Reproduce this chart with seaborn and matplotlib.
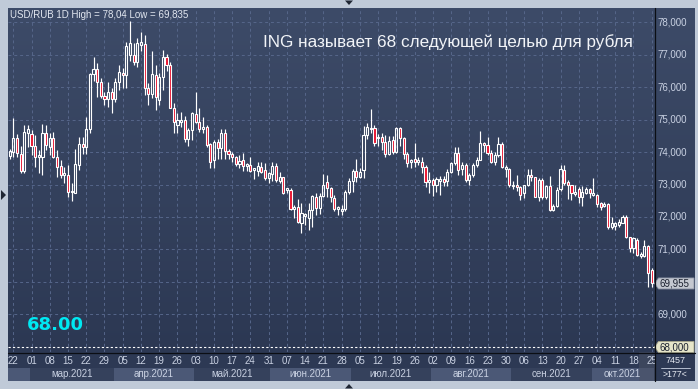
import numpy as np
import pandas as pd
import matplotlib
matplotlib.use("Agg")
import matplotlib.pyplot as plt
import seaborn as sns
from matplotlib.colors import LinearSegmentedColormap
from matplotlib.patches import Polygon, Rectangle
from matplotlib.lines import Line2D

# Daily USD/RUB candles, 19 Feb - 25 Oct 2021
opens = [
    73.88,
    74.01, 74.42, 73.94, 73.43, 74.59,
    74.54, 74.18, 73.86, 73.86, 74.59,
    74.16, 74.42, 73.86, 73.57, 73.29,
    73.29, 72.78, 72.73, 73.60, 74.25,
    74.14, 74.70, 76.40, 76.54, 76.16,
    75.72, 75.62, 75.86, 75.62, 76.16,
    76.44, 76.37, 76.98, 76.98, 76.78,
    77.30, 77.32, 75.96, 75.77, 76.37,
    75.60, 76.30, 76.91, 76.68, 75.36,
    74.83, 74.93, 75.00, 74.39, 74.68,
    75.17, 74.93, 74.70, 74.78, 74.25,
    73.75, 74.30, 74.11, 74.57, 74.04,
    73.94, 73.84, 73.62, 73.75, 73.57,
    73.60, 73.45, 73.43, 73.55, 73.45,
    73.19, 73.32, 73.57, 73.12, 73.22,
    72.82, 72.83, 72.24, 72.30, 71.83,
    72.03, 71.96, 72.22, 72.63, 72.27,
    72.65, 73.09, 72.88, 72.60, 72.24,
    72.20, 72.24, 72.78, 73.11, 73.42,
    73.22, 73.45, 74.52, 74.70, 74.75,
    74.42, 74.45, 74.32, 73.95, 74.37,
    74.01, 74.73, 74.42, 73.94, 73.70,
    73.80, 73.70, 73.70, 73.53, 73.09,
    73.13, 72.99, 73.12, 73.16, 73.12,
    73.40, 73.65, 73.96, 73.47, 73.60,
    73.14, 73.29, 73.60, 73.75, 74.27,
    74.22, 73.96, 73.70, 73.90, 74.25,
    73.47, 73.47, 72.95, 72.98, 72.91,
    72.75, 72.98, 73.29, 73.22, 72.63,
    73.14, 72.63, 72.95, 72.22, 72.34,
    72.85, 73.45, 73.09, 72.98, 72.71,
    72.85, 72.61, 72.75, 72.85, 72.68,
    72.68, 72.42, 72.34, 72.40, 71.70,
    71.72, 71.75, 71.83, 72.01, 71.37,
    71.04, 71.29, 70.80, 70.80, 71.12,
    70.37,
]
highs = [
    74.10,
    75.04, 74.55, 74.20, 74.83, 74.83,
    74.68, 74.52, 74.06, 74.87, 74.83,
    74.57, 74.63, 74.06, 73.75, 73.55,
    73.60, 73.04, 74.10, 74.47, 74.47,
    75.09, 76.42, 76.93, 76.73, 76.27,
    75.86, 76.16, 75.96, 76.27, 76.68,
    76.60, 77.39, 78.04, 77.34, 77.50,
    77.70, 77.60, 76.13, 77.10, 76.68,
    76.42, 77.14, 77.03, 76.78, 75.50,
    75.21, 75.24, 75.10, 74.73, 75.24,
    75.85, 75.34, 75.09, 74.83, 74.27,
    74.37, 74.39, 74.70, 74.70, 74.10,
    74.00, 73.88, 73.90, 73.96, 73.67,
    73.86, 73.50, 73.70, 73.70, 73.67,
    73.40, 73.70, 73.65, 73.40, 73.24,
    72.90, 72.88, 72.37, 72.54, 72.42,
    72.13, 72.42, 72.68, 72.73, 72.73,
    73.32, 73.29, 72.93, 72.68, 72.35,
    72.37, 72.83, 73.19, 73.47, 73.77,
    73.50, 74.80, 74.90, 75.31, 74.82,
    74.55, 74.60, 74.52, 74.50, 74.50,
    74.78, 74.78, 74.47, 74.00, 73.80,
    74.27, 73.85, 73.86, 73.60, 73.40,
    73.19, 73.24, 73.26, 73.25, 73.47,
    73.70, 74.14, 74.16, 73.70, 73.65,
    73.36, 73.65, 73.86, 74.66, 74.32,
    74.47, 74.06, 74.00, 74.47, 74.32,
    73.60, 73.50, 73.10, 73.30, 72.95,
    73.00, 73.47, 73.47, 73.24, 73.20,
    73.20, 73.00, 73.25, 72.40, 72.91,
    73.60, 73.60, 73.14, 72.98, 72.98,
    72.91, 72.95, 72.91, 72.90, 73.20,
    72.71, 72.45, 72.45, 72.42, 72.01,
    71.86, 71.95, 72.06, 72.06, 71.39,
    71.39, 71.34, 70.93, 71.29, 71.15,
    70.42,
]
lows = [
    73.78,
    73.86, 73.86, 73.34, 73.34, 74.16,
    73.91, 73.55, 73.34, 73.29, 74.06,
    73.90, 73.81, 73.24, 73.19, 73.04,
    72.63, 72.50, 72.73, 73.45, 73.95,
    73.95, 74.60, 76.20, 75.70, 75.65,
    75.45, 75.39, 75.19, 75.55, 75.91,
    75.96, 75.96, 76.80, 76.68, 76.63,
    77.10, 75.75, 75.45, 75.65, 75.30,
    75.45, 75.90, 76.50, 75.34, 74.60,
    74.60, 74.76, 74.32, 74.18, 74.37,
    74.90, 74.62, 74.57, 74.16, 73.50,
    73.50, 73.80, 73.80, 73.77, 73.80,
    73.70, 73.57, 73.50, 73.43, 73.43,
    73.37, 73.16, 73.25, 73.35, 73.14,
    73.05, 73.10, 73.09, 73.04, 72.71,
    72.73, 72.22, 71.96, 71.83, 71.50,
    71.75, 71.60, 71.70, 72.06, 72.10,
    72.63, 72.63, 72.47, 72.19, 72.06,
    72.06, 72.19, 72.70, 72.78, 73.09,
    73.19, 73.20, 74.40, 74.60, 74.20,
    74.20, 74.06, 73.85, 73.92, 73.95,
    73.98, 74.20, 73.80, 73.55, 73.50,
    73.55, 73.60, 73.35, 72.93, 72.73,
    72.65, 72.78, 72.68, 72.95, 72.95,
    73.35, 73.60, 73.29, 73.30, 73.09,
    73.00, 73.24, 73.55, 73.75, 74.00,
    73.90, 73.65, 73.60, 73.85, 73.50,
    73.24, 72.93, 72.85, 72.80, 72.52,
    72.60, 72.95, 73.10, 72.61, 72.50,
    72.55, 72.55, 72.19, 72.18, 72.30,
    72.80, 73.00, 72.54, 72.52, 72.65,
    72.44, 72.34, 72.70, 72.60, 72.65,
    72.30, 72.22, 72.30, 71.62, 71.62,
    71.60, 71.70, 71.80, 71.34, 70.93,
    70.88, 70.80, 70.75, 70.78, 69.85,
    69.835,
]
closes = [
    74.02,
    74.42, 73.96, 73.43, 74.63, 74.70,
    74.18, 73.86, 73.91, 74.59, 74.22,
    74.42, 73.86, 73.55, 73.29, 73.34,
    72.78, 72.80, 73.63, 74.25, 74.14,
    74.70, 76.40, 76.54, 76.16, 75.72,
    75.62, 75.86, 75.62, 76.16, 76.47,
    76.37, 77.26, 77.34, 76.78, 77.34,
    77.38, 75.96, 75.77, 76.39, 75.70,
    76.30, 76.91, 76.68, 75.36, 74.93,
    75.00, 75.00, 74.39, 74.68, 75.21,
    74.93, 74.70, 74.78, 74.22, 73.70,
    74.30, 74.11, 74.57, 74.04, 73.94,
    73.84, 73.62, 73.73, 73.57, 73.63,
    73.43, 73.50, 73.57, 73.40, 73.19,
    73.35, 73.57, 73.14, 73.22, 72.75,
    72.88, 72.24, 72.32, 71.86, 72.13,
    72.10, 72.22, 72.65, 72.27, 72.65,
    72.99, 72.88, 72.63, 72.24, 72.30,
    72.26, 72.78, 73.11, 73.42, 73.22,
    73.40, 74.52, 74.78, 74.74, 74.27,
    74.47, 74.32, 73.95, 74.35, 74.01,
    74.75, 74.42, 73.94, 73.65, 73.74,
    73.70, 73.75, 73.53, 73.09, 73.14,
    72.99, 73.16, 73.16, 73.08, 73.40,
    73.67, 73.96, 73.45, 73.60, 73.14,
    73.29, 73.60, 73.75, 74.27, 74.22,
    73.96, 73.70, 73.90, 74.25, 73.53,
    73.53, 72.98, 73.00, 72.91, 72.68,
    72.98, 73.29, 73.22, 72.63, 73.14,
    72.63, 72.95, 72.22, 72.34, 72.83,
    73.47, 73.06, 72.98, 72.75, 72.78,
    72.63, 72.78, 72.85, 72.73, 72.73,
    72.40, 72.30, 72.40, 71.70, 71.83,
    71.80, 71.86, 72.01, 71.37, 71.04,
    71.34, 70.83, 70.86, 71.11, 70.27,
    69.955,
]

dates = pd.bdate_range("2021-02-19", "2021-10-25")
month_names = {3: "мар.2021", 4: "апр.2021", 5: "май.2021", 6: "июн.2021",
               7: "июл.2021", 8: "авг.2021", 9: "сен.2021", 10: "окт.2021"}
price_ticks = [69, 70, 71, 72, 73, 74, 75, 76, 77, 78]
last_price = 69.955
target_price = 68.0

sns.set_theme(style="dark")
plt.rcParams["font.family"] = ["Liberation Sans", "DejaVu Sans"]

W, H = 698, 389
def box(x0, y0, x1, y1):
    return [x0 / W, 1 - y1 / H, (x1 - x0) / W, (y1 - y0) / H]
def pt(x, y):
    return (x / W, 1 - y / H)

fig = plt.figure(figsize=(W / 100, H / 100), dpi=100, facecolor="#c0cad8")

xlim = (-0.45, 176.9)
ylim = (67.846, 78.431)
bg = LinearSegmentedColormap.from_list("bg", ["#3d4b68", "#2c3853"])
grad = np.linspace(0, 1, 256).reshape(-1, 1)
label_col = "#c9d1e2"
fs = 7

# right price panel
axr = fig.add_axes(box(655, 8, 695, 352))
axr.imshow(grad, cmap=bg, aspect="auto", extent=(0, 1, ylim[0], ylim[1]), origin="upper")
axr.set_xlim(0, 1)
axr.set_ylim(*ylim)
axr.axis("off")
for p in price_ticks:
    if abs(p - last_price) < 0.3:
        continue  # hidden behind the last-price marker
    axr.text(0.07, p, f"{p},000", color=label_col, fontsize=fs, va="center", ha="left")

# bottom date panel
axb = fig.add_axes(box(8, 352, 655, 381))
axb.set_facecolor("#2d3954")
axb.set_xlim(*xlim)
axb.set_ylim(0, 1)
axb.set_xticks([])
axb.set_yticks([])
for s in axb.spines.values():
    s.set_visible(False)
idx = np.arange(len(dates))
months = pd.Series(idx, index=dates).groupby(dates.month)
for k, (m, g) in enumerate(months):
    lo, hi = max(g.min() - 0.5, xlim[0]), min(g.max() + 0.5, xlim[1])
    col = "#4b5876" if k % 2 == 0 else "#35415c"
    axb.axvspan(lo, hi, ymin=0, ymax=0.46, color=col, lw=0)
    if m in month_names:
        axb.text((lo + hi) / 2, 0.23, month_names[m], color=label_col, fontsize=fs,
                 ha="center", va="center")
mondays = idx[dates.weekday == 0]
for i in mondays:
    axb.text(i, 0.68, f"{dates[i].day:02d}", color=label_col, fontsize=fs,
             ha="center", va="center")
axb.axvspan(172.6, xlim[1], color="#4a5266", alpha=0.55, lw=0)

# corner box
axc = fig.add_axes(box(655, 352, 695, 381))
axc.set_xlim(0, 1)
axc.set_ylim(0, 1)
axc.axis("off")
axc.add_patch(Rectangle((0, 0), 1, 1, color="#2d3954"))
axc.text(0.52, 0.7, "7457", color="#e6eaf2", fontsize=6.5, ha="center", va="center")
axc.plot([0.15, 0.88], [0.46, 0.46], color="#c9d1e2", lw=0.6)
axc.text(0.5, 0.24, ">177<", color="#e6eaf2", fontsize=6.3, ha="center", va="center")

# main chart
ax = fig.add_axes(box(8, 8, 655, 352))
ax.imshow(grad, cmap=bg, aspect="auto", extent=(xlim[0], xlim[1], ylim[0], ylim[1]),
          origin="upper", zorder=0)
ax.set_xlim(*xlim)
ax.set_ylim(*ylim)
ax.set_xticks(mondays)
ax.set_yticks(price_ticks)
ax.set_xticklabels([])
ax.set_yticklabels([])
ax.tick_params(length=0)
ax.grid(True, color="#56668a", linestyle=(0, (3, 3)), linewidth=0.7, zorder=1)
for s in ax.spines.values():
    s.set_visible(False)

o = np.array(opens)
c = np.array(closes)
h = np.array(highs)
l = np.array(lows)
x = np.arange(len(o))
up = c >= o
top = np.maximum(o, c)
bot = np.minimum(o, c)
height = np.maximum(top - bot, 0.012)
ax.vlines(x, top, h, color="white", lw=0.85, zorder=3)
ax.vlines(x, l, bot, color="white", lw=0.85, zorder=3)
ax.bar(x[up], height[up], bottom=bot[up], width=0.58, color="none",
       edgecolor="white", linewidth=0.8, zorder=4)
ax.bar(x[~up], height[~up], bottom=bot[~up], width=0.58, color="#e8112d",
       edgecolor="white", linewidth=0.8, zorder=4)

ax.axhline(target_price, color="white", linestyle=(0, (2, 2)), lw=0.8, zorder=2)

ax.text(0.003, 0.979, "USD/RUB 1D High = 78,04 Low = 69,835", transform=ax.transAxes,
        color="#e2e7f0", fontsize=7, ha="left", va="center", zorder=6)
ax.text(0.966, 0.901, "ING называет 68 следующей целью для рубля", transform=ax.transAxes,
        color="#f2f4f8", fontsize=12.3, ha="right", va="center", zorder=6)
ax.text(0.029, 0.078, "68.00", transform=ax.transAxes, color="#00e8f2",
        fontsize=13, fontweight="bold", family="DejaVu Sans", ha="left", va="center", zorder=6)

# price markers on the right axis
def price_y(p):
    return 22 + (78 - p) * 32.5
for p, fc, ec in [(last_price, "#c4c8d0", "#8e96a6"), (target_price, "#e6e5c9", "#a8a78c")]:
    yc = price_y(p)
    fig.add_artist(Polygon([pt(654.5, yc), pt(658.5, yc - 5.5), pt(694, yc - 5.5),
                            pt(694, yc + 5.5), pt(658.5, yc + 5.5)], closed=True,
                           transform=fig.transFigure, fc=fc, ec=ec, lw=0.6))
    fig.text(*pt(659.5, yc), f"{p:.3f}".replace(".", ","), color="#1c2230",
             fontsize=fs, ha="left", va="center")

# separator lines
fig.add_artist(Line2D([655 / W, 655 / W], [1 - 8 / H, 1 - 381 / H], color="#0b0e14",
                      lw=0.9, transform=fig.transFigure))
fig.add_artist(Line2D([8 / W, 695 / W], [1 - 352.5 / H, 1 - 352.5 / H], color="#0b0e14",
                      lw=0.9, transform=fig.transFigure))

# small scroll arrows
arrow_col = "#1f2633"
fig.add_artist(Polygon([pt(345, 0.5), pt(353, 0.5), pt(349, 5)], closed=True,
                       transform=fig.transFigure, fc=arrow_col, ec="none"))
fig.add_artist(Polygon([pt(345, 388.5), pt(353, 388.5), pt(349, 384)], closed=True,
                       transform=fig.transFigure, fc=arrow_col, ec="none"))
fig.add_artist(Polygon([pt(1, 190), pt(1, 200), pt(6, 195)], closed=True,
                       transform=fig.transFigure, fc=arrow_col, ec="none"))

fig.savefig("out.png", dpi=100, facecolor=fig.get_facecolor())
